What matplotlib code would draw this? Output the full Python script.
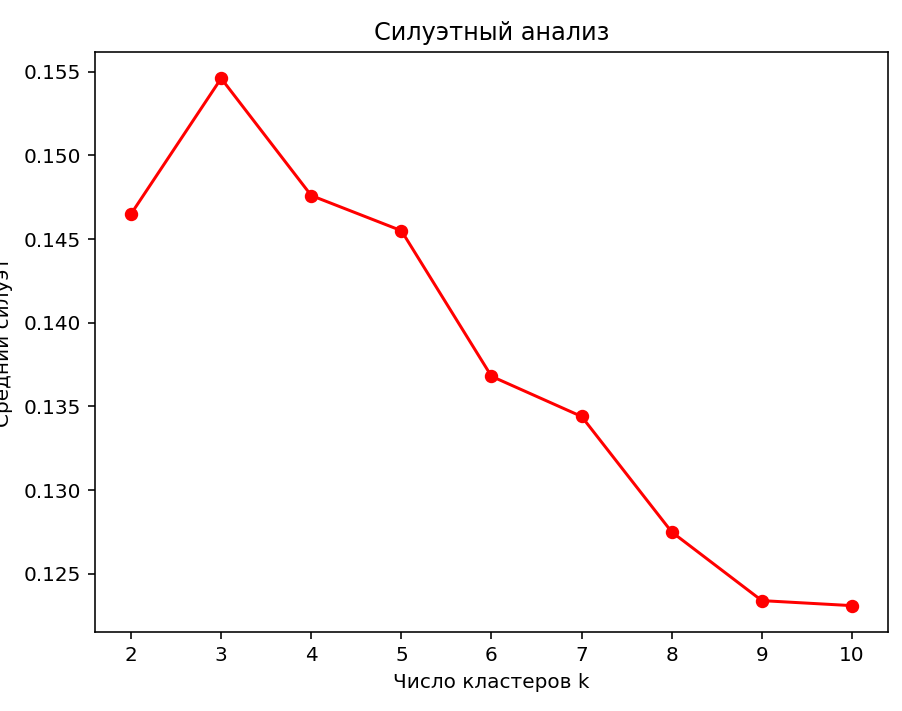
import matplotlib
matplotlib.use("Agg")
import matplotlib.pyplot as plt

# --- data ---
k_values = [2, 3, 4, 5, 6, 7, 8, 9, 10]
silhouette = [0.1465, 0.1546, 0.1476, 0.1455, 0.1368, 0.1344, 0.1275, 0.1234, 0.1231]

title = "Силуэтный анализ"
x_label = "Число кластеров k"
y_label = "Средний силуэт"

# reference looks like a default figure upscaled ~1.44x
s = 1.44
plt.rcParams['font.size'] = 10 * s
plt.rcParams['axes.linewidth'] = 0.8 * s
for ax_name in ('xtick', 'ytick'):
    plt.rcParams[f'{ax_name}.major.size'] = 3.5 * s
    plt.rcParams[f'{ax_name}.major.width'] = 0.8 * s
    plt.rcParams[f'{ax_name}.major.pad'] = 3.5 * s

fig = plt.figure(figsize=(9.03, 7.11), dpi=100)
ax = fig.add_axes([95 / 903, 1 - 632 / 711, 793 / 903, 580 / 711])

ax.plot(k_values, silhouette, 'o-', color='red', linewidth=1.5 * s, markersize=6 * s)
ax.set_xticks(k_values)
ax.set_yticks([0.125, 0.130, 0.135, 0.140, 0.145, 0.150, 0.155])
ax.set_title(title, pad=6 * s)
ax.set_xlabel(x_label, labelpad=4 * s)
ax.set_ylabel(y_label)
ax.yaxis.set_label_coords(-0.103, 0.5)

fig.savefig("out.png", dpi=100)
